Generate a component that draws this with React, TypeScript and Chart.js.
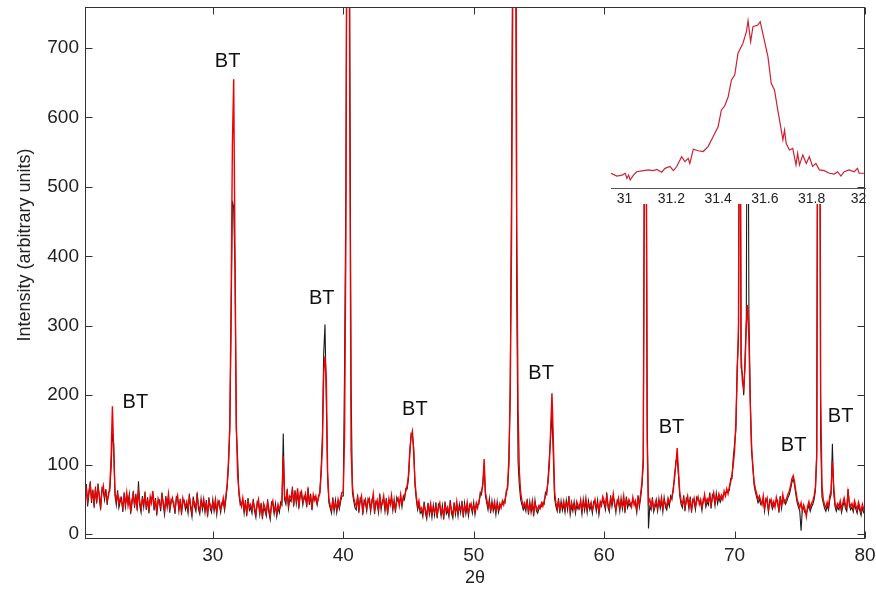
import React, { useEffect, useRef } from "react";
import { Chart, registerables } from "chart.js";

Chart.register(...registerables);

const FONT = 'Arial, "Liberation Sans", Helvetica, sans-serif';

// Sampling grid of the diffractogram (2θ, degrees)
const twoThetaStart = 20.2;
const twoThetaStep = 0.1;

// Red pattern, one row per degree (20.2–20.9, then 21.0–21.9, ...)
const redIntensity = [
  58, 66, 48, 62, 71, 52, 60, 45,
  63, 50, 67, 57, 41, 61, 70, 54, 59, 48,
  55, 68, 110, 184, 120, 62, 48, 57, 44, 52,
  47, 38, 55, 44, 60, 41, 52, 35, 49, 58,
  43, 53, 39, 61, 46, 37, 50, 44, 56, 40,
  48, 36, 54, 45, 62, 40, 47, 33, 51, 44,
  39, 55, 46, 34, 50, 43, 58, 37, 45, 52,
  41, 35, 49, 56, 38, 46, 33, 52, 44, 40,
  47, 36, 53, 42, 31, 49, 45, 38, 55, 41,
  34, 46, 40, 51, 37, 44, 30, 48, 42, 36,
  45, 38, 50, 33, 43, 47, 36, 41, 52, 39,
  55, 72, 105, 155, 330, 560, 655, 400, 160, 85,
  62, 48, 40, 52, 36, 44, 31, 47, 39, 43,
  35, 46, 38, 29, 42, 50, 33, 40, 27, 44,
  38, 31, 45, 36, 26, 41, 48, 34, 39, 30,
  43, 36, 40, 48, 112, 55, 48, 60, 42, 55,
  52, 63, 45, 58, 49, 66, 42, 55, 61, 47,
  50, 58, 44, 62, 47, 53, 40, 57, 49, 55,
  45, 52, 60, 85, 125, 230, 256, 225, 90, 50,
  42, 35, 48, 38, 44, 36, 50, 41, 52, 60,
  60, 140, 420, 1100, 1400, 600, 120, 70, 52, 45,
  40, 52, 36, 47, 55, 33, 44, 50, 38, 46,
  51, 37, 45, 58, 34, 42, 49, 36, 53, 40,
  44, 55, 38, 47, 33, 51, 42, 56, 39, 45,
  36, 48, 52, 41, 57, 44, 50, 55, 62, 70,
  85, 120, 140, 148, 118, 75, 55, 40, 48, 35,
  38, 30, 42, 35, 27, 40, 33, 44, 29, 37,
  32, 41, 28, 38, 45, 31, 36, 26, 42, 34,
  39, 30, 44, 35, 28, 41, 33, 47, 31, 38,
  36, 43, 29, 40, 34, 46, 31, 38, 44, 35,
  41, 33, 45, 38, 48, 55, 62, 70, 108, 60,
  50, 40, 46, 35, 43, 38, 47, 33, 42, 36,
  44, 38, 48, 42, 50, 58, 70, 110, 200, 420,
  800, 1500, 1300, 450, 180, 90, 60, 48, 40, 45,
  38, 46, 33, 42, 36, 48, 31, 44, 39, 35,
  41, 37, 45, 40, 48, 55, 62, 75, 100, 150,
  203, 140, 62, 45, 38, 47, 35, 43, 39, 48,
  36, 44, 40, 50, 33, 46, 38, 42, 35, 47,
  41, 37, 49, 34, 45, 39, 52, 36, 43, 40,
  46, 35, 42, 50, 38, 44, 33, 47, 41, 54,
  48, 40, 55, 43, 37, 51, 45, 58, 42, 36,
  44, 52, 38, 47, 41, 55, 36, 49, 43, 50,
  45, 39, 53, 42, 48, 36, 51, 44, 58, 75,
  110, 600, 800, 130, 45, 50, 40, 48, 37, 44,
  50, 38, 46, 42, 53, 37, 48, 44, 40, 52,
  45, 50, 55, 62, 85, 100, 124, 90, 60, 48,
  43, 51, 38, 47, 55, 41, 49, 36, 45, 52,
  40, 48, 54, 43, 50, 39, 46, 57, 44, 51,
  47, 55, 42, 52, 60, 46, 54, 49, 58, 51,
  56, 50, 62, 55, 65, 58, 68, 75, 85, 100,
  120, 160, 230, 300, 900, 260, 220, 210, 240, 300,
  330, 280, 190, 130, 95, 75, 65, 58, 50, 55,
  48, 42, 55, 38, 46, 52, 36, 44, 50, 41,
  47, 39, 53, 44, 36, 50, 42, 57, 45, 48,
  52, 58, 62, 70, 80, 84, 75, 62, 50, 44,
  38, 45, 33, 42, 36, 25, 40, 47, 38, 44,
  48, 55, 68, 110, 900, 1000, 200, 70, 50, 42,
  38, 46, 40, 55, 62, 105, 70, 45, 38, 44,
  40, 48, 36, 45, 52, 42, 38, 60, 46, 40,
  44, 37, 48, 41, 35, 46, 39, 32, 43, 36,
  38,
];

// Black pattern on the same grid
const blackIntensity = [
  52, 72, 40, 57, 76, 45, 64, 38,
  68, 44, 73, 51, 35, 66, 62, 49, 65, 42,
  60, 62, 95, 145, 130, 55, 42, 63, 38, 47,
  52, 32, 60, 39, 55, 46, 58, 29, 44, 62,
  38, 58, 34, 76, 41, 31, 55, 39, 61, 35,
  53, 30, 49, 51, 57, 34, 52, 27, 46, 49,
  33, 60, 41, 28, 55, 38, 53, 31, 50, 47,
  46, 29, 54, 51, 33, 51, 28, 47, 49, 35,
  42, 30, 58, 37, 25, 54, 40, 33, 60, 36,
  29, 51, 35, 46, 31, 49, 25, 53, 37, 31,
  50, 33, 45, 28, 48, 42, 31, 46, 47, 34,
  50, 68, 98, 150, 300, 480, 470, 380, 150, 110,
  57, 42, 45, 47, 30, 49, 26, 52, 34, 38,
  30, 51, 33, 24, 47, 45, 28, 45, 22, 39,
  33, 26, 50, 31, 21, 46, 43, 29, 44, 25,
  38, 31, 46, 42, 145, 50, 43, 65, 37, 50,
  47, 68, 40, 63, 44, 60, 37, 60, 56, 42,
  55, 53, 39, 67, 42, 58, 35, 52, 54, 50,
  42, 55, 58, 92, 140, 260, 302, 190, 80, 45,
  37, 30, 53, 33, 49, 31, 45, 36, 47, 55,
  55, 240, 500, 1000, 1300, 700, 215, 60, 48, 38,
  35, 57, 31, 52, 50, 28, 49, 45, 33, 51,
  46, 32, 50, 53, 29, 47, 44, 31, 58, 35,
  49, 50, 33, 52, 28, 46, 47, 51, 34, 50,
  31, 53, 47, 46, 52, 39, 55, 50, 66, 65,
  80, 115, 145, 143, 125, 70, 50, 35, 43, 30,
  33, 25, 47, 30, 22, 45, 28, 39, 24, 42,
  27, 46, 23, 43, 40, 26, 41, 21, 47, 29,
  34, 25, 49, 30, 23, 46, 28, 42, 26, 43,
  31, 48, 24, 45, 29, 41, 26, 43, 39, 30,
  46, 28, 40, 43, 43, 60, 57, 75, 95, 55,
  45, 35, 51, 30, 48, 33, 42, 28, 47, 31,
  39, 43, 43, 47, 45, 63, 65, 100, 212, 500,
  900, 1400, 1000, 350, 105, 70, 50, 42, 35, 40,
  33, 51, 28, 47, 31, 43, 26, 49, 34, 30,
  36, 42, 40, 45, 43, 60, 57, 80, 110, 140,
  175, 115, 52, 40, 33, 52, 30, 48, 34, 43,
  31, 49, 35, 55, 28, 41, 33, 47, 30, 42,
  36, 42, 44, 29, 50, 34, 47, 31, 48, 35,
  41, 30, 47, 45, 33, 49, 28, 42, 46, 49,
  43, 35, 60, 38, 32, 56, 40, 53, 47, 31,
  49, 47, 33, 52, 36, 50, 31, 54, 38, 45,
  40, 44, 48, 47, 43, 31, 56, 39, 52, 70,
  100, 650, 700, 175, 8, 40, 35, 53, 32, 39,
  45, 33, 51, 37, 48, 32, 53, 39, 35, 47,
  40, 55, 50, 67, 80, 105, 110, 85, 55, 43,
  38, 56, 33, 52, 50, 36, 54, 31, 50, 47,
  35, 53, 49, 48, 45, 34, 51, 52, 39, 46,
  42, 60, 37, 57, 55, 41, 59, 44, 53, 46,
  51, 55, 57, 60, 60, 63, 63, 80, 80, 110,
  130, 150, 240, 280, 800, 240, 230, 200, 250, 310,
  900, 320, 200, 120, 100, 70, 60, 53, 45, 50,
  43, 47, 50, 33, 51, 47, 31, 49, 45, 36,
  42, 44, 48, 49, 31, 55, 37, 52, 50, 43,
  47, 53, 57, 65, 75, 80, 70, 57, 45, 39,
  33, 5, 38, 37, 31, 30, 35, 42, 33, 39,
  43, 50, 63, 120, 850, 950, 140, 54, 45, 37,
  33, 41, 35, 50, 57, 130, 60, 40, 33, 39,
  35, 43, 31, 40, 47, 37, 33, 65, 41, 35,
  39, 32, 43, 36, 30, 41, 34, 27, 38, 31,
  33,
];

const xTickValues = [30, 40, 50, 60, 70, 80];
const yTickValues = [0, 100, 200, 300, 400, 500, 600, 700];

// "BT" annotations (text centre, data units)
const labelText = "BT";
const labelTwoTheta = [24.06, 31.13, 38.35, 45.49, 55.17, 65.16, 74.53, 78.13];
const labelIntensity = [190, 681, 339, 179, 232, 153, 127, 169];

// Inset: zoom on the 31.5° reflection
const insetTwoTheta = [
  30.942, 30.967, 30.989, 31.003, 31.01, 31.017, 31.024, 31.038, 31.052, 31.081, 31.102, 31.123,
  31.138, 31.159, 31.173, 31.194, 31.209, 31.223, 31.244, 31.258, 31.272, 31.279, 31.294, 31.315,
  31.336, 31.357, 31.379, 31.4, 31.414, 31.428, 31.443, 31.457, 31.471, 31.485, 31.506, 31.521,
  31.528, 31.539, 31.549, 31.57, 31.58, 31.591, 31.613, 31.627, 31.641, 31.655, 31.67, 31.677,
  31.684, 31.691, 31.705, 31.719, 31.733, 31.74, 31.748, 31.762, 31.777, 31.79, 31.804, 31.818,
  31.833, 31.854, 31.875, 31.896, 31.911, 31.925, 31.939, 31.96, 31.982, 31.996, 32.003, 32.024,
];
const insetIntensity = [
  57, 46, 50, 57, 37, 50, 31, 50, 63, 67, 70, 67,
  72, 61, 76, 83, 67, 83, 121, 102, 115, 95, 150, 144,
  141, 160, 199, 237, 302, 317, 353, 418, 437, 521, 559, 605,
  647, 566, 624, 630, 643, 598, 508, 405, 379, 302, 224, 186,
  224, 173, 147, 153, 89, 134, 89, 128, 95, 121, 83, 95,
  70, 67, 57, 54, 63, 46, 63, 70, 63, 76, 57, 57,
];
const insetTickValues = [31, 31.2, 31.4, 31.6, 31.8, 32];

// Inset background area in the main canvas (layout, pixels)
const INSET_BOX = { left: 607, right: 857, bottom: 204 };

const framePlugin = {
  id: "matlabFrame",
  afterDatasetsDraw(chart: any) {
    const { ctx, chartArea: a, scales } = chart;
    const xs = scales.x;
    const ys = scales.y;
    ctx.save();
    ctx.strokeStyle = "#333";
    ctx.lineWidth = 1;
    ctx.beginPath();
    for (const v of xTickValues) {
      const px = Math.round(xs.getPixelForValue(v)) + 0.5;
      ctx.moveTo(px, a.bottom - 0.5);
      ctx.lineTo(px, a.bottom - 7.5);
      ctx.moveTo(px, a.top + 0.5);
      ctx.lineTo(px, a.top + 7.5);
    }
    for (const v of yTickValues) {
      const py = Math.round(ys.getPixelForValue(v)) + 0.5;
      ctx.moveTo(a.left + 0.5, py);
      ctx.lineTo(a.left + 7.5, py);
      ctx.moveTo(a.right - 0.5, py);
      ctx.lineTo(a.right - 7.5, py);
    }
    ctx.stroke();
    // white background of the inset axes
    ctx.fillStyle = "#fff";
    ctx.fillRect(INSET_BOX.left, a.top + 1, INSET_BOX.right - INSET_BOX.left, INSET_BOX.bottom - a.top - 1);
    // box
    ctx.strokeRect(a.left + 0.5, a.top + 0.5, a.right - a.left - 1, a.bottom - a.top - 1);
    // annotations
    ctx.fillStyle = "#111";
    ctx.font = `20px ${FONT}`;
    ctx.textAlign = "center";
    ctx.textBaseline = "middle";
    labelTwoTheta.forEach((x, i) => {
      ctx.fillText(labelText, xs.getPixelForValue(x), ys.getPixelForValue(labelIntensity[i]));
    });
    // y-axis title
    ctx.font = `18px ${FONT}`;
    ctx.translate(25, 245);
    ctx.rotate(-Math.PI / 2);
    ctx.fillStyle = "#222";
    ctx.fillText("Intensity (arbitrary units)", 0, 0);
    ctx.restore();
  },
};

const toPoints = (values: number[]) =>
  values.map((y, i) => ({ x: +(twoThetaStart + twoThetaStep * i).toFixed(2), y }));

export default function App() {
  const mainRef = useRef<HTMLCanvasElement>(null);
  const insetRef = useRef<HTMLCanvasElement>(null);

  useEffect(() => {
    const tickFont = { size: 19, family: FONT };
    const main = new Chart(mainRef.current as HTMLCanvasElement, {
      type: "line",
      data: {
        datasets: [
          {
            label: "red",
            data: toPoints(redIntensity),
            borderColor: "#f00000",
            borderWidth: 1.4,
            pointRadius: 0,
            order: 0,
          },
          {
            label: "black",
            data: toPoints(blackIntensity),
            borderColor: "#1a1a1a",
            borderWidth: 1.1,
            pointRadius: 0,
            order: 1,
          },
        ],
      },
      options: {
        responsive: false,
        animation: false,
        events: [],
        layout: { padding: { left: 0, right: 11, top: 7, bottom: 0 } },
        plugins: { legend: { display: false }, tooltip: { enabled: false } },
        elements: { line: { tension: 0 } },
        scales: {
          x: {
            type: "linear",
            min: 20.2,
            max: 80,
            grid: { display: false, drawTicks: false },
            border: { display: false },
            afterBuildTicks: (s: any) => {
              s.ticks = xTickValues.map((v) => ({ value: v }));
            },
            afterFit: (s: any) => {
              s.height = 53;
              s.paddingLeft = 0;
              s.paddingRight = 0;
            },
            ticks: { font: tickFont, color: "#222", padding: 5, maxRotation: 0, autoSkip: false },
            title: {
              display: true,
              text: "2θ",
              font: { size: 18, family: FONT },
              color: "#222",
              padding: { top: 0, bottom: 3 },
            },
          },
          y: {
            type: "linear",
            min: -7,
            max: 759,
            grid: { display: false, drawTicks: false },
            border: { display: false },
            afterBuildTicks: (s: any) => {
              s.ticks = yTickValues.map((v) => ({ value: v }));
            },
            afterFit: (s: any) => {
              s.width = 85;
              s.paddingTop = 0;
              s.paddingBottom = 0;
            },
            ticks: { font: tickFont, color: "#222", padding: 6, autoSkip: false },
          },
        },
      },
      plugins: [framePlugin],
    } as any);

    const inset = new Chart(insetRef.current as HTMLCanvasElement, {
      type: "line",
      data: {
        datasets: [
          {
            label: "inset",
            data: insetTwoTheta.map((x, i) => ({ x, y: insetIntensity[i] })),
            borderColor: "#cc2233",
            borderWidth: 1.2,
            pointRadius: 0,
          },
        ],
      },
      options: {
        responsive: false,
        animation: false,
        events: [],
        layout: { padding: { left: 611, right: 11, top: 7, bottom: 0 } },
        plugins: { legend: { display: false }, tooltip: { enabled: false } },
        elements: { line: { tension: 0 } },
        scales: {
          x: {
            type: "linear",
            min: 30.942,
            max: 32.028,
            grid: { display: false, drawTicks: false },
            border: { display: true, color: "#555", width: 1 },
            afterBuildTicks: (s: any) => {
              s.ticks = insetTickValues.map((v) => ({ value: v }));
            },
            afterFit: (s: any) => {
              s.height = 404;
              s.paddingLeft = 0;
              s.paddingRight = 0;
            },
            ticks: {
              font: { size: 14, family: FONT },
              color: "#222",
              padding: 3,
              maxRotation: 0,
              autoSkip: false,
              callback: (v: any) => String(Math.round(Number(v) * 10) / 10),
            },
          },
          y: { type: "linear", display: false, min: 0, max: 700 },
        },
      },
    } as any);

    return () => {
      main.destroy();
      inset.destroy();
    };
  }, []);

  return (
    <div style={{ position: "fixed", left: 0, top: 0, width: 876, height: 592, background: "#fff" }}>
      <canvas ref={mainRef} width={876} height={592} style={{ position: "absolute", left: 0, top: 0 }} />
      <canvas
        ref={insetRef}
        width={876}
        height={592}
        style={{ position: "absolute", left: 0, top: 0, pointerEvents: "none" }}
      />
    </div>
  );
}
